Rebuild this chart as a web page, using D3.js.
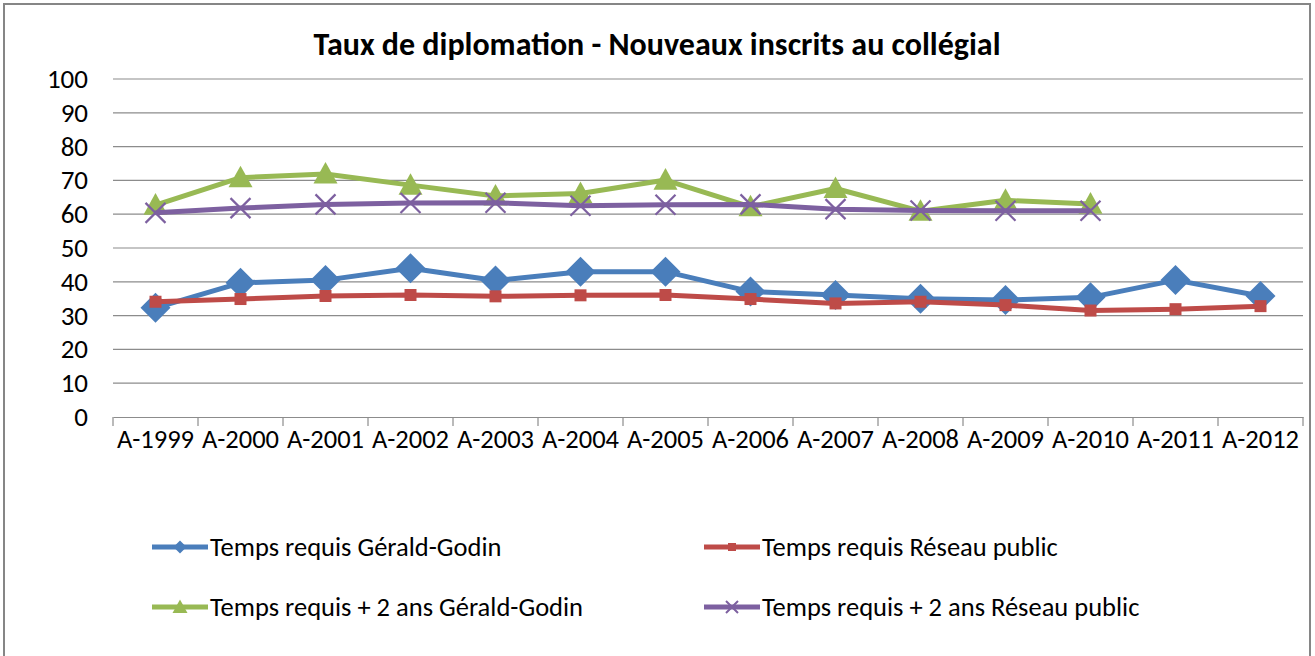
<!DOCTYPE html>
<html>
<head>
<meta charset="utf-8">
<script src="https://cdn.jsdelivr.net/npm/d3@7"></script>
<style>
  body { margin: 0; background: #fff; }
  svg text { font-family: Carlito, Calibri, "Open Sans", sans-serif; fill: #000; }
</style>
</head>
<body>
<div id="chart"></div>
<script>
// categories and series values
var years = ["A-1999", "A-2000", "A-2001", "A-2002", "A-2003", "A-2004", "A-2005",
             "A-2006", "A-2007", "A-2008", "A-2009", "A-2010", "A-2011", "A-2012"];
var ggRequis = [32.3, 39.7, 40.5, 44.0, 40.4, 43.0, 43.0, 37.1, 36.1, 35.0, 34.6, 35.4, 40.5, 35.8];
var reseauRequis = [34.1, 34.9, 35.8, 36.1, 35.7, 36.0, 36.1, 34.9, 33.6, 34.1, 33.1, 31.5, 31.9, 32.8];
var ggPlus2 = [62.7, 70.8, 71.9, 68.6, 65.4, 66.1, 70.1, 62.2, 67.6, 60.9, 64.1, 63.0, null, null];
var reseauPlus2 = [60.4, 61.8, 62.9, 63.3, 63.4, 62.5, 62.8, 62.9, 61.5, 61.1, 61.0, 61.0, null, null];
var yTicks = [0, 10, 20, 30, 40, 50, 60, 70, 80, 90, 100];

var series = [
  { name: "Temps requis Gérald-Godin", values: ggRequis, color: "#4A7EBB", marker: "diamond" },
  { name: "Temps requis Réseau public", values: reseauRequis, color: "#BE4B48", marker: "square" },
  { name: "Temps requis + 2 ans Gérald-Godin", values: ggPlus2, color: "#98B954", marker: "triangle" },
  { name: "Temps requis + 2 ans Réseau public", values: reseauPlus2, color: "#7D60A0", marker: "cross" }
];

var width = 1315, height = 656;
var plot = { left: 113, right: 1303, top: 79, bottom: 417 };

var svg = d3.select("#chart").append("svg")
    .attr("width", width)
    .attr("height", height);

// outer frame
svg.append("rect")
    .attr("x", 4).attr("y", 4)
    .attr("width", 1306).attr("height", 670)
    .attr("fill", "#fff")
    .attr("stroke", "#868686")
    .attr("stroke-width", 2);

svg.append("text")
    .attr("x", 657).attr("y", 55)
    .attr("text-anchor", "middle")
    .attr("font-size", 32)
    .attr("font-weight", "bold")
    .text("Taux de diplomation - Nouveaux inscrits au collégial");

var x = d3.scaleBand()
    .domain(years)
    .range([plot.left, plot.right]);
var y = d3.scaleLinear()
    .domain([0, 100])
    .range([plot.bottom, plot.top]);

// gridlines
svg.append("g")
    .selectAll("line")
    .data(yTicks.filter(d => d > 0))
    .enter()
    .append("line")
    .attr("x1", plot.left).attr("x2", plot.right)
    .attr("y1", d => y(d)).attr("y2", d => y(d))
    .attr("stroke", "#8c8c8c")
    .attr("stroke-width", 1.2);

// y labels
svg.append("g")
    .selectAll("text")
    .data(yTicks)
    .enter()
    .append("text")
    .attr("x", 88)
    .attr("y", d => y(d) + 9)
    .attr("text-anchor", "end")
    .attr("font-size", 27)
    .text(d => d);

// x axis with ticks between categories
var xAxis = d3.axisBottom(x).tickSize(0).tickPadding(12);
var gx = svg.append("g")
    .attr("transform", "translate(0," + plot.bottom + ")")
    .call(xAxis);
gx.select(".domain").attr("stroke", "#8c8c8c").attr("stroke-width", 1.2);
gx.selectAll("text").attr("font-size", 26.5).attr("fill", "#000")
    .style("font-family", "Carlito, Calibri, 'Open Sans', sans-serif");
var bounds = years.map(d => x(d)).concat([plot.right]);
gx.selectAll(".sep")
    .data(bounds)
    .enter()
    .append("line")
    .attr("x1", d => d).attr("x2", d => d)
    .attr("y1", 0).attr("y2", 9)
    .attr("stroke", "#8c8c8c")
    .attr("stroke-width", 1.2);

function markerPath(type, s) {
  if (type === "diamond") return "M0," + (-s) + "L" + s + ",0L0," + s + "L" + (-s) + ",0Z";
  if (type === "square") return "M" + (-s) + "," + (-s) + "h" + (2 * s) + "v" + (2 * s) + "h" + (-2 * s) + "Z";
  if (type === "triangle") return "M0," + (-s) + "L" + s + "," + (s * 0.8) + "L" + (-s) + "," + (s * 0.8) + "Z";
  return "M" + (-s) + "," + (-s) + "L" + s + "," + s + "M" + s + "," + (-s) + "L" + (-s) + "," + s;
}
var markerSize = { diamond: 15, square: 6, triangle: 12, cross: 10 };
var legendSize = { diamond: 6.5, square: 4, triangle: 7.5, cross: 6 };

var line = d3.line()
    .defined(d => d.v != null)
    .x(d => x(d.year) + x.bandwidth() / 2)
    .y(d => y(d.v));

series.forEach(function(s) {
  var pts = years.map((yr, i) => ({ year: yr, v: s.values[i] }));
  var g = svg.append("g");
  g.append("path")
      .datum(pts)
      .attr("d", line)
      .attr("fill", "none")
      .attr("stroke", s.color)
      .attr("stroke-width", 5)
      .attr("stroke-linejoin", "round");
  g.selectAll(".m")
      .data(pts.filter(d => d.v != null))
      .enter()
      .append("path")
      .attr("transform", d => "translate(" + (x(d.year) + x.bandwidth() / 2) + "," + y(d.v) + ")")
      .attr("d", markerPath(s.marker, markerSize[s.marker]))
      .attr("fill", s.marker === "cross" ? "none" : s.color)
      .attr("stroke", s.color)
      .attr("stroke-width", s.marker === "cross" ? 2.2 : 0);
});

// legend
var legendPos = [[152, 547], [704, 547], [152, 607], [704, 607]];
series.forEach(function(s, i) {
  var lx = legendPos[i][0], ly = legendPos[i][1];
  var g = svg.append("g").attr("transform", "translate(" + lx + "," + ly + ")");
  g.append("line")
      .attr("x1", 0).attr("x2", 56)
      .attr("stroke", s.color)
      .attr("stroke-width", 5);
  g.append("path")
      .attr("transform", "translate(28,0)")
      .attr("d", markerPath(s.marker, legendSize[s.marker]))
      .attr("fill", s.marker === "cross" ? "none" : s.color)
      .attr("stroke", s.color)
      .attr("stroke-width", s.marker === "cross" ? 2 : 0);
  g.append("text")
      .attr("x", 58).attr("y", 9)
      .attr("font-size", 26.5)
      .text(s.name);
});
</script>
</body>
</html>
